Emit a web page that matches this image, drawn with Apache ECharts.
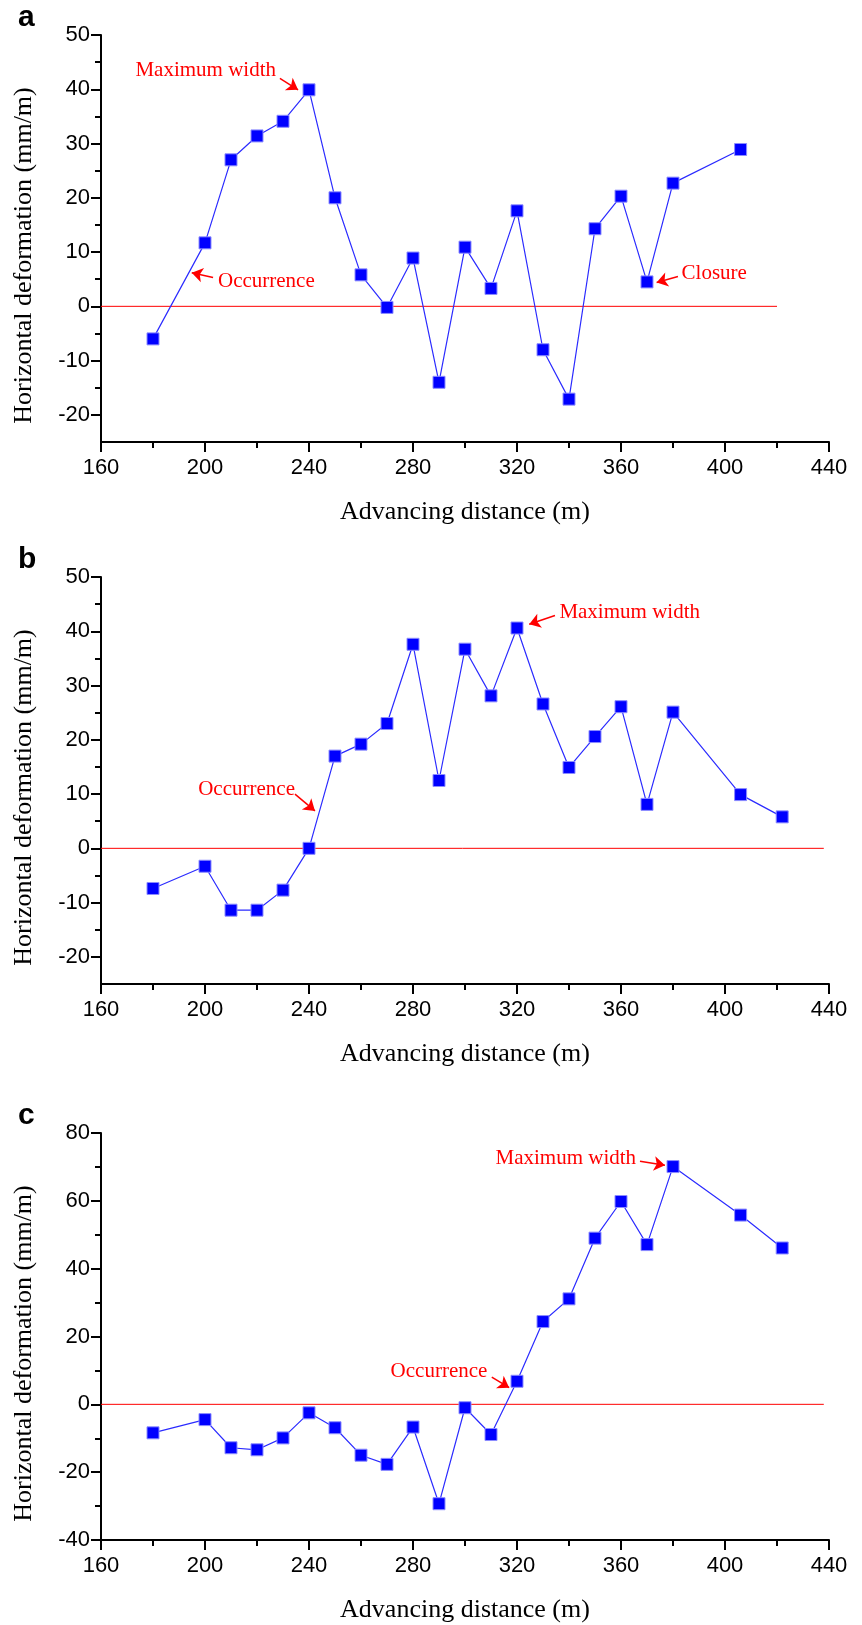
<!DOCTYPE html>
<html>
<head>
<meta charset="utf-8">
<title>Horizontal deformation vs advancing distance</title>
<script src="https://cdn.jsdelivr.net/npm/echarts@6/dist/echarts.min.js"></script>
<style>
  html, body { margin: 0; padding: 0; background: #fff; }
  #chart { width: 862px; height: 1625px; }
</style>
</head>
<body>
<div id="chart"></div>
<script>
// advancing distance (m) / horizontal deformation (mm/m)
const distA = [180, 200, 210, 220, 230, 240, 250, 260, 270, 280, 290, 300, 310, 320, 330, 340, 350, 360, 370, 380, 406];
const defA = [-6.0, 11.7, 27.0, 31.4, 34.1, 39.9, 20.0, 5.8, -0.2, 8.9, -14.0, 10.9, 3.3, 17.6, -8.0, -17.1, 14.3, 20.3, 4.5, 22.7, 28.9];

const distB = [180, 200, 210, 220, 230, 240, 250, 260, 270, 280, 290, 300, 310, 320, 330, 340, 350, 360, 370, 380, 406, 422];
const defB = [-7.4, -3.3, -11.4, -11.4, -7.7, 0, 17.0, 19.2, 23.0, 37.6, 12.5, 36.7, 28.1, 40.6, 26.6, 14.9, 20.6, 26.1, 8.1, 25.1, 9.9, 5.8];

const distC = [180, 200, 210, 220, 230, 240, 250, 260, 270, 280, 290, 300, 310, 320, 330, 340, 350, 360, 370, 380, 406, 422];
const defC = [-8.4, -4.5, -12.8, -13.4, -9.9, -2.5, -6.9, -15.0, -17.7, -6.7, -29.3, -1.0, -8.9, 6.8, 24.4, 31.1, 49.0, 59.8, 47.1, 70.1, 55.8, 46.1];

// red zero reference lines
const zeroA = [[160, 0], [420, 0]];
const zeroB = [[160, 0], [438, 0]];
const zeroC = [[160, 0], [438, 0]];

// tick labels
const xTicks = [160, 200, 240, 280, 320, 360, 400, 440];
const yTicksAB = [-20, -10, 0, 10, 20, 30, 40, 50];
const yMinorAB = [-15, -5, 5, 15, 25, 35, 45];
const yTicksC = [-40, -20, 0, 20, 40, 60, 80];
const yMinorC = [-30, -10, 10, 30, 50, 70];

// annotations (data coordinates)
const notesA = [
  { text: 'Maximum width', at: [227.3, 43.4], side: 'left', from: [228.8, 42.0], to: [235.8, 39.9] },
  { text: 'Occurrence', at: [205, 4.6], side: 'right', from: [203.1, 5.3], to: [194.9, 6.2] },
  { text: 'Closure', at: [383.3, 6.0], side: 'right', from: [381.9, 5.5], to: [373.7, 4.4] }
];
const notesB = [
  { text: 'Occurrence', at: [234.6, 10.9], side: 'left', from: [234.6, 10.0], to: [242.3, 6.9] },
  { text: 'Maximum width', at: [336.3, 43.5], side: 'right', from: [334.6, 42.9], to: [324.7, 41.3] }
];
const notesC = [
  { text: 'Maximum width', at: [365.8, 72.5], side: 'left', from: [367.3, 71.7], to: [376.9, 70.5] },
  { text: 'Occurrence', at: [308.6, 9.8], side: 'left', from: [310.3, 8.05], to: [317.0, 4.9] }
];

const panels = [
  { label: 'a', top: 35, x: distA, y: defA, zero: zeroA, yMin: -25, yMax: 50, yTicks: yTicksAB, yMinor: yMinorAB, notes: notesA },
  { label: 'b', top: 577, x: distB, y: defB, zero: zeroB, yMin: -25, yMax: 50, yTicks: yTicksAB, yMinor: yMinorAB, notes: notesB },
  { label: 'c', top: 1133, x: distC, y: defC, zero: zeroC, yMin: -40, yMax: 80, yTicks: yTicksC, yMinor: yMinorC, notes: notesC }
];

const sans = '"Liberation Sans", Arial, sans-serif';
const serif = '"Liberation Serif", "Times New Roman", serif';
const black = '#000';

let grid = [], xAxis = [], yAxis = [], series = [], graphic = [];

panels.forEach(function (p, i) {
  grid.push({ left: 101, top: p.top, width: 728, height: 407, outerBoundsMode: 'none' });

  xAxis.push({
    gridIndex: i, type: 'value', min: 160, max: 440, interval: 40,
    axisLine: { onZero: false, lineStyle: { color: black, width: 2 } },
    axisTick: { length: 10, lineStyle: { color: black, width: 2 } },
    minorTick: { show: true, splitNumber: 2, length: 6, lineStyle: { color: black, width: 2 } },
    axisLabel: { color: black, fontSize: 22, fontFamily: sans, margin: 15,
                 customValues: xTicks },
    splitLine: { show: false },
    name: 'Advancing distance (m)', nameLocation: 'middle', nameGap: 57,
    nameTextStyle: { color: black, fontSize: 26, fontFamily: serif }
  });

  // major ticks + labels
  yAxis.push({
    gridIndex: i, type: 'value', position: 'left', min: p.yMin, max: p.yMax,
    axisLine: { show: true, onZero: false, lineStyle: { color: black, width: 2 } },
    axisTick: { show: true, customValues: p.yTicks, length: 10, lineStyle: { color: black, width: 2 } },
    axisLabel: { customValues: p.yTicks, color: black, fontSize: 22, fontFamily: sans, margin: 11 },
    splitLine: { show: false },
    name: 'Horizontal deformation (mm/m)', nameLocation: 'middle', nameRotate: 90, nameGap: 64,
    nameTextStyle: { color: black, fontSize: 26, fontFamily: serif, padding: [0, 34, 0, 0] }
  });
  // minor ticks
  yAxis.push({
    gridIndex: i, type: 'value', position: 'left', offset: 0, min: p.yMin, max: p.yMax,
    axisLine: { show: false, onZero: false },
    axisTick: { show: true, customValues: p.yMinor, length: 6, lineStyle: { color: black, width: 2 } },
    axisLabel: { show: false },
    splitLine: { show: false }
  });

  series.push({
    type: 'line', xAxisIndex: i, yAxisIndex: 2 * i,
    data: p.zero, symbol: 'none', silent: true, z: 2,
    lineStyle: { color: '#ff0000', width: 1 },
    markLine: {
      silent: true, symbol: ['none', 'arrow'], symbolSize: 11,
      lineStyle: { color: '#ff0000', width: 1.5, type: 'solid' },
      label: { show: false },
      data: p.notes.map(function (n) { return [{ coord: n.from }, { coord: n.to }]; })
    },
    markPoint: {
      silent: true, symbol: 'circle', symbolSize: 0,
      data: p.notes.map(function (n) {
        return {
          coord: n.at,
          label: { show: true, formatter: n.text, position: n.side, distance: 0,
                   color: '#ff0000', fontSize: 21, fontFamily: serif }
        };
      })
    }
  });

  series.push({
    type: 'line', xAxisIndex: i, yAxisIndex: 2 * i, z: 3,
    data: p.x.map(function (d, k) { return [d, p.y[k]]; }),
    symbol: 'rect', symbolSize: 12,
    itemStyle: { color: '#0000ff', borderColor: '#8c8cff', borderWidth: 1 },
    lineStyle: { color: '#2b2bff', width: 1.2 }
  });

  graphic.push({
    type: 'text', x: 18, y: p.top - 17,
    style: { text: p.label, font: 'bold 30px ' + sans, fill: black, textVerticalAlign: 'middle' }
  });
});

const chart = echarts.init(document.getElementById('chart'), null, { renderer: 'canvas' });
chart.setOption({
  animation: false,
  backgroundColor: '#fff',
  grid: grid,
  xAxis: xAxis,
  yAxis: yAxis,
  series: series,
  graphic: graphic
});
</script>
</body>
</html>
